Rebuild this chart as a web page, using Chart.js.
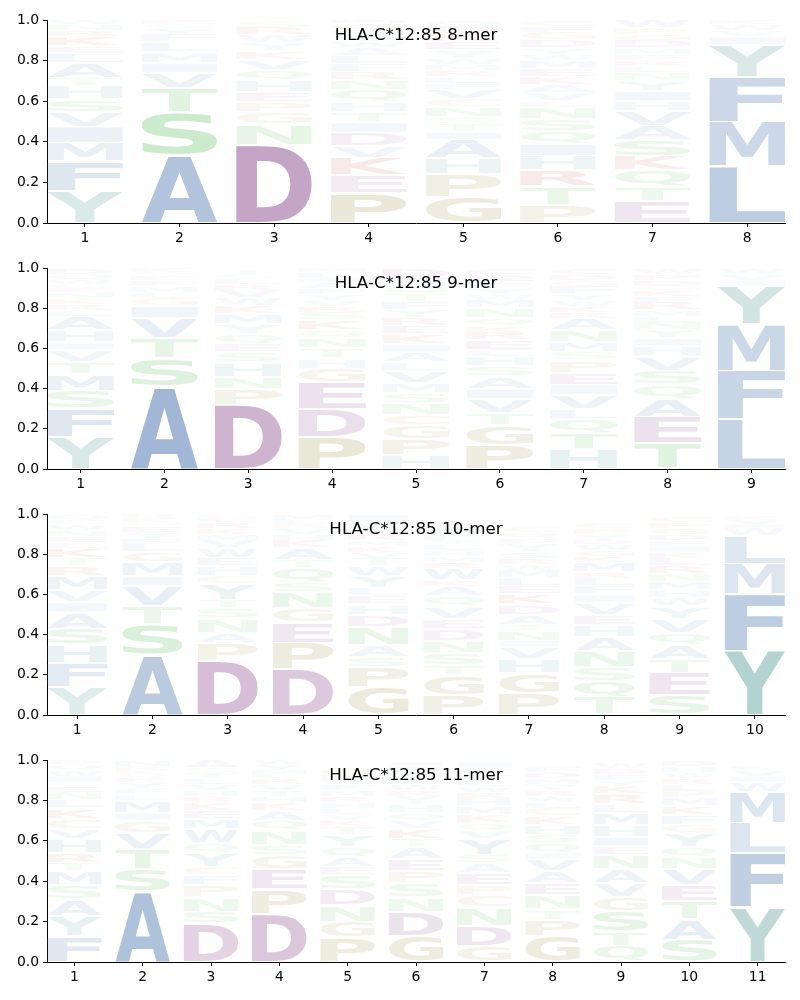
<!DOCTYPE html>
<html>
<head>
<meta charset="utf-8">
<script src="https://cdn.jsdelivr.net/npm/chart.js@4.4.1/dist/chart.umd.min.js"></script>
<style>
  body { margin: 0; background: #fff; }
  #wrap { position: relative; width: 800px; height: 1000px; }
  canvas { position: absolute; left: 0; }
</style>
</head>
<body>
<div id="wrap">
  <canvas id="logo8" width="800" height="246" style="top:0px"></canvas>
  <canvas id="logo9" width="800" height="246" style="top:248px"></canvas>
  <canvas id="logo10" width="800" height="246" style="top:494px"></canvas>
  <canvas id="logo11" width="800" height="246" style="top:740px"></canvas>
</div>
<script>
// letters of each position, bottom to top, and their heights (probabilities)
const letters8 = ["YFMIVSHTALEKRNW", "ASTVIMLFYGE", "DNGPEHQVKYWRS", "PEKVDITHQNRFLAWYSGM",
  "GPHAITSNCVFLRMWYEKDQ", "PTRHIQSNLVAKEMWYDGFC", "ETQKSAVHIYNLRFMDGPW", "LMFYIVWKR"];
const heights8 = [
  [.16, .145, .09, .08, .07, .065, .065, .04, .075, .05, .03, .05, .03, .03, .02],
  [.335, .21, .12, .075, .05, .05, .05, .04, .03, .02, .02],
  [.385, .1, .06, .05, .05, .06, .05, .05, .04, .04, .04, .04, .03],
  [.15, .085, .085, .06, .065, .05, .05, .05, .06, .05, .04, .04, .04, .04, .03, .03, .03, .03, .03],
  [.13, .11, .08, .09, .04, .04, .03, .05, .04, .05, .03, .03, .03, .03, .03, .04, .04, .04, .04, .03],
  [.09, .09, .08, .07, .06, .06, .06, .06, .03, .04, .04, .04, .04, .04, .03, .03, .04, .04, .03, .03],
  [.11, .07, .08, .07, .08, .07, .07, .05, .05, .05, .04, .03, .03, .03, .03, .04, .03, .03, .04],
  [.28, .22, .22, .157, .04, .03, .03, .02, .02]
];

const letters9 = ["YFSMTVIHALRKNEGWQD", "ASTVIGLMFEQK", "DPNHSEQYMKWVRLGT", "PDEGHTNQKSRVYFAILM",
  "HPGCNSMVLAIKERYFTQWD", "PGTVIASHLERKQNMWYFDC", "HTQLVIEPSMNARKWYFGDC", "TEAQSVHIYNLMRFKGDPW", "LFMYIVW"];
const heights9 = [
  [.16, .14, .09, .08, .06, .06, .04, .06, .07, .03, .03, .03, .03, .02, .02, .02, .03, .03],
  [.41, .14, .1, .1, .06, .04, .03, .03, .03, .02, .02, .02],
  [.32, .08, .06, .07, .05, .04, .05, .05, .05, .04, .04, .04, .03, .03, .02, .02],
  [.16, .14, .13, .07, .05, .05, .05, .04, .05, .04, .03, .03, .03, .03, .03, .02, .03, .02],
  [.07, .08, .07, .05, .06, .05, .05, .06, .04, .05, .04, .05, .04, .04, .04, .04, .04, .04, .04, .05],
  [.12, .1, .06, .07, .05, .06, .05, .05, .03, .05, .04, .03, .04, .05, .04, .03, .03, .04, .03, .03],
  [.1, .08, .07, .05, .07, .05, .06, .06, .04, .05, .06, .06, .03, .03, .03, .03, .04, .03, .03, .03],
  [.13, .13, .09, .07, .07, .07, .05, .04, .04, .04, .03, .03, .04, .03, .03, .02, .03, .03, .03],
  [.25, .24, .23, .19, .03, .03, .03]
];

const letters10 = ["YFHSAIVMRTKLENWGQ", "ASTVIMGLFYEQKR", "DPANSTYCHEWVMKRLG", "DPEGNSQTAKHVRLM",
  "GPSANDHELYWTVKMRQFI", "PGTSNDEVQAKWRMHLYFIC", "PGHVINTADKELMWRSYFQC", "TQSNAHEVIFLRMKGWDYPC",
  "SETAQVYWHMNRLKIFDGPC", "YFMLWIVK"];
const heights10 = [
  [.14, .12, .09, .08, .08, .05, .06, .07, .05, .04, .05, .03, .03, .03, .03, .02, .03],
  [.3, .15, .09, .1, .05, .07, .05, .04, .03, .03, .03, .02, .02, .02],
  [.27, .09, .05, .07, .05, .04, .08, .04, .05, .04, .05, .04, .03, .03, .03, .02, .02],
  [.23, .13, .1, .07, .08, .05, .07, .04, .06, .04, .03, .03, .02, .02, .03],
  [.14, .1, .05, .06, .09, .06, .05, .04, .04, .06, .05, .04, .03, .03, .03, .03, .03, .03, .04],
  [.1, .1, .05, .06, .06, .06, .05, .06, .05, .05, .03, .06, .03, .03, .03, .03, .02, .03, .04, .03],
  [.11, .1, .07, .06, .03, .05, .03, .05, .05, .05, .04, .04, .04, .03, .03, .03, .04, .03, .03, .03],
  [.09, .08, .07, .08, .07, .06, .05, .06, .04, .04, .04, .03, .05, .03, .03, .03, .02, .03, .03, .03],
  [.1, .11, .07, .07, .06, .07, .06, .04, .04, .04, .04, .04, .04, .03, .03, .03, .03, .03, .03, .03],
  [.32, .28, .15, .14, .04, .02, .02, .02]
];

const letters11 = ["FYASMTRHVCKLNEGIWQD", "ASTVGIMLFYEQKRN", "DSNPFCYQWMEKRHVLTGA", "DPEGSNQAKHTVRLMYW",
  "PGNDSEAQYTKVLHRMFWIC", "GDNSPEATKVQHYRWLMFI", "GDNCPEASYVQKMHRWLTFI", "GPTNEAVIQSHKCLWRYMDF",
  "QTSGVANEIHMLRKYFDW", "SATEVNQYGFKMPLRWHD", "YFLMWIVK"];
const heights11 = [
  [.13, .1, .08, .07, .07, .04, .05, .07, .05, .05, .05, .04, .04, .03, .02, .03, .03, .03, .02],
  [.35, .11, .1, .08, .06, .04, .06, .03, .03, .03, .02, .02, .02, .02, .03],
  [.19, .06, .07, .06, .05, .04, .07, .05, .07, .05, .04, .04, .03, .03, .03, .03, .03, .02, .04],
  [.24, .12, .1, .07, .05, .07, .05, .05, .04, .03, .03, .03, .03, .02, .02, .03, .02],
  [.12, .08, .08, .08, .07, .04, .05, .05, .06, .04, .03, .03, .03, .03, .03, .03, .03, .02, .03, .03],
  [.13, .12, .07, .07, .06, .06, .06, .04, .05, .04, .04, .04, .04, .03, .03, .03, .03, .03, .02],
  [.08, .1, .09, .06, .05, .06, .05, .04, .08, .04, .04, .04, .04, .04, .03, .03, .03, .03, .03, .03],
  [.13, .08, .05, .07, .06, .06, .06, .03, .05, .04, .05, .04, .04, .03, .03, .03, .03, .03, .03, .03],
  [.08, .07, .1, .07, .07, .07, .07, .04, .05, .06, .06, .04, .05, .04, .03, .03, .03, .03],
  [.11, .1, .09, .08, .08, .06, .05, .07, .04, .05, .04, .04, .04, .03, .03, .03, .03, .03],
  [.27, .27, .15, .15, .05, .03, .03, .02]
];

const panelTitles = ["HLA-C*12:85 8-mer", "HLA-C*12:85 9-mer", "HLA-C*12:85 10-mer", "HLA-C*12:85 11-mer"];

// colour groups for the amino acids
const groupColors = [
  ["AVLIMFW", [78, 120, 176]],
  ["DE", [140, 75, 140]],
  ["STNQ", [70, 178, 70]],
  ["GPC", [150, 140, 60]],
  ["YH", [72, 148, 143]],
  ["KR", [200, 60, 60]]
];

// opacity follows the letter height
function letterColor(letter, h) {
  let rgb = [128, 128, 128];
  groupColors.forEach(g => { if (g[0].includes(letter)) rgb = g[1]; });
  let alpha = Math.min(1, 1.3 * h);
  return `rgba(${rgb[0]},${rgb[1]},${rgb[2]},${alpha.toFixed(3)})`;
}

const glyphFont = 'bold 200px "DejaVu Sans"';
const glyphBoxes = {};

function glyphBox(ctx, letter) {
  if (!glyphBoxes[letter]) {
    ctx.font = glyphFont;
    let m = ctx.measureText(letter);
    glyphBoxes[letter] = {
      left: m.actualBoundingBoxLeft,
      w: m.actualBoundingBoxLeft + m.actualBoundingBoxRight,
      asc: m.actualBoundingBoxAscent,
      h: m.actualBoundingBoxAscent + m.actualBoundingBoxDescent
    };
  }
  return glyphBoxes[letter];
}

// stretch each letter over its (invisible) bar
const letterPlugin = {
  id: "letters",
  afterDatasetsDraw(chart) {
    let ctx = chart.ctx;
    let points = chart.data.datasets[0].data;
    let area = chart.chartArea;
    ctx.save();
    ctx.beginPath();
    ctx.rect(area.left, area.top, area.right - area.left, area.bottom - area.top);
    ctx.clip();
    chart.getDatasetMeta(0).data.forEach((bar, i) => {
      let p = bar.getProps(["x", "y", "base", "width"], true);
      let pt = points[i];
      let top = Math.min(p.y, p.base);
      let hgt = Math.abs(p.base - p.y);
      let pad = hgt > 8 ? 1 : 0.4;
      top += pad;
      hgt -= 2 * pad;
      if (hgt <= 0) return;
      let g = glyphBox(ctx, pt.letter);
      ctx.save();
      ctx.translate(p.x - p.width / 2, top);
      ctx.scale(p.width / g.w, hgt / g.h);
      ctx.font = glyphFont;
      ctx.textAlign = "left";
      ctx.textBaseline = "alphabetic";
      ctx.fillStyle = letterColor(pt.letter, pt.y[1] - pt.y[0]);
      ctx.fillText(pt.letter, g.left, g.asc);
      ctx.restore();
    });
    ctx.restore();
  }
};

const titlePlugin = {
  id: "panelTitle",
  afterDraw(chart) {
    let ctx = chart.ctx;
    let area = chart.chartArea;
    ctx.save();
    ctx.font = '16.7px "DejaVu Sans"';
    ctx.fillStyle = "#000";
    ctx.textAlign = "center";
    ctx.textBaseline = "middle";
    ctx.fillText(chart.options.plugins.panelTitle.text, (area.left + area.right) / 2, area.top + 16);
    ctx.restore();
  }
};

function makeLogo(canvasId, title, letters, heights, plotHeight) {
  let points = [];
  for (let i = 0; i < letters.length; i++) {
    let base = 0;
    for (let j = 0; j < letters[i].length; j++) {
      let h = heights[i][j];
      points.push({ x: i + 1, y: [base, base + h], letter: letters[i][j] });
      base += h;
    }
  }
  let positions = letters.map((l, i) => i + 1);
  let canvas = document.getElementById(canvasId);
  let tickFont = { family: "DejaVu Sans", size: 13.9 };

  new Chart(canvas.getContext("2d"), {
    type: "bar",
    data: {
      datasets: [{
        data: points,
        backgroundColor: "rgba(0,0,0,0)",
        borderWidth: 0,
        barPercentage: 0.8,
        categoryPercentage: 1
      }]
    },
    options: {
      responsive: false,
      animation: false,
      layout: { padding: { left: 0, top: 20, right: 15, bottom: 0 } },
      plugins: {
        legend: { display: false },
        tooltip: { enabled: false },
        panelTitle: { text: title }
      },
      scales: {
        x: {
          type: "linear",
          min: 0.6,
          max: letters.length + 0.4,
          offset: false,
          afterBuildTicks: axis => { axis.ticks = positions.map(v => ({ value: v })); },
          afterFit: axis => { axis.height = canvas.height - 20 - plotHeight; },
          grid: { offset: false, drawOnChartArea: false, color: "#000", tickLength: 4 },
          border: { color: "#000", width: 1 },
          ticks: { color: "#000", font: tickFont, padding: 3, maxRotation: 0 }
        },
        y: {
          min: 0,
          max: 1,
          afterBuildTicks: axis => { axis.ticks = [0, 0.2, 0.4, 0.6, 0.8, 1].map(v => ({ value: v })); },
          afterFit: axis => { axis.width = 47; },
          grid: { drawOnChartArea: false, color: "#000", tickLength: 4 },
          border: { color: "#000", width: 1 },
          ticks: { color: "#000", font: tickFont, padding: 4, callback: v => v.toFixed(1) }
        }
      }
    },
    plugins: [letterPlugin, titlePlugin]
  });
}

makeLogo("logo8", panelTitles[0], letters8, heights8, 203);
makeLogo("logo9", panelTitles[1], letters9, heights9, 201);
makeLogo("logo10", panelTitles[2], letters10, heights10, 201);
makeLogo("logo11", panelTitles[3], letters11, heights11, 202);
</script>
</body>
</html>
